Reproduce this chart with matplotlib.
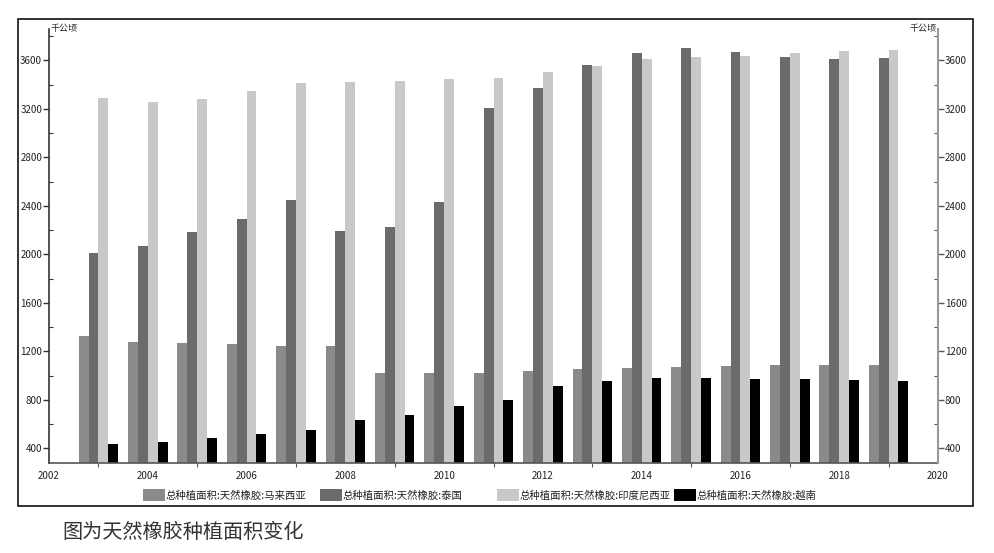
import matplotlib
matplotlib.use("Agg")
import matplotlib.pyplot as plt
from matplotlib.patches import Rectangle
from matplotlib.ticker import MultipleLocator, FixedLocator
import numpy as np

plt.rcParams['font.family'] = ['Noto Sans CJK SC', 'DejaVu Sans']

years = list(range(2003, 2020))
malaysia = [1327, 1276, 1268, 1260, 1243, 1243, 1024, 1021, 1024, 1041, 1054, 1066, 1070, 1078, 1084, 1084, 1084]
thailand = [2014, 2066, 2184, 2294, 2451, 2190, 2225, 2432, 3208, 3372, 3562, 3660, 3701, 3668, 3627, 3610, 3621]
indonesia = [3289, 3260, 3281, 3349, 3412, 3420, 3430, 3445, 3455, 3504, 3557, 3607, 3624, 3635, 3660, 3676, 3685]
vietnam = [439, 455, 485, 521, 554, 633, 678, 749, 802, 917, 958, 978, 983, 975, 970, 962, 958]

series_names = ['总种植面积:天然橡胶:马来西亚', '总种植面积:天然橡胶:泰国',
                '总种植面积:天然橡胶:印度尼西亚', '总种植面积:天然橡胶:越南']
colors = ['#8a8a8a', '#6b6b6b', '#c8c8c8', '#000000']
unit = '千公顷'
caption = '图为天然橡胶种植面积变化'

fig = plt.figure(figsize=(9.94, 5.53), dpi=100)
ax = fig.add_axes([49/994, 1-463/553, (938-49)/994, (463-29)/553])

ymin, ymax = 280, 3858
x = np.array(years, dtype=float)
w = 0.2
offsets = [-1.5, -0.5, 0.5, 1.5]
handles = []
for vals, c, off, name in zip([malaysia, thailand, indonesia, vietnam], colors, offsets, series_names):
    h = ax.bar(x + off*w, vals, width=w, color=c, bottom=0, label=name, linewidth=0)
    handles.append(h)

ax.set_xlim(2002, 2020)
ax.set_ylim(ymin, ymax)
ax.xaxis.set_major_locator(FixedLocator(list(range(2002, 2021, 2))))
ax.xaxis.set_minor_locator(FixedLocator(list(range(2003, 2020, 2))))
ax.yaxis.set_major_locator(FixedLocator(list(range(400, 3601, 400))))
ax.yaxis.set_minor_locator(MultipleLocator(200))

for s in ['top', 'right']:
    ax.spines[s].set_visible(False)
ax.spines['left'].set_color('#333333')
ax.spines['bottom'].set_color('#555555')
ax.spines['left'].set_linewidth(1.2)
ax.spines['bottom'].set_linewidth(1.2)

ax.tick_params(axis='y', which='major', direction='out', length=4, width=1, labelsize=7, colors='#333333', pad=1)
ax.tick_params(axis='y', which='minor', direction='in', length=3, width=0.8, colors='#333333')
ax.tick_params(axis='x', which='major', direction='out', length=0, labelsize=7, colors='#333333', pad=6)
ax.tick_params(axis='x', which='minor', direction='out', length=3, width=0.8, colors='#555555')
for lab in ax.get_yticklabels() + ax.get_xticklabels():
    lab.set_color('#222222')

ax2 = ax.twinx()
ax2.set_ylim(ymin, ymax)
ax2.yaxis.set_major_locator(FixedLocator(list(range(400, 3601, 400))))
ax2.yaxis.set_minor_locator(MultipleLocator(200))
for s in ['top', 'left', 'bottom']:
    ax2.spines[s].set_visible(False)
ax2.spines['right'].set_color('#999999')
ax2.spines['right'].set_linewidth(1.5)
ax2.tick_params(axis='y', which='major', direction='out', length=4, width=1, labelsize=7, colors='#555555', pad=1)
ax2.tick_params(axis='y', which='minor', direction='in', length=3, width=0.8, colors='#555555')
for lab in ax2.get_yticklabels():
    lab.set_color('#222222')

ax.text(0.002, 1.0, unit, transform=ax.transAxes, fontsize=6.5, ha='left', va='center', color='#222222')
ax2.text(0.998, 1.0, unit, transform=ax2.transAxes, fontsize=6.5, ha='right', va='center', color='#222222')

legend_x = [143, 320, 497, 674]
for h, name, lx in zip(handles, series_names, legend_x):
    leg = fig.legend(handles=[h], labels=[name], loc='center left',
                     bbox_to_anchor=(lx/994, 1-495/553), frameon=False, fontsize=7.5,
                     handlelength=2.1, handleheight=1.35, handletextpad=0.1,
                     borderaxespad=0, borderpad=0)
    for t in leg.get_texts():
        t.set_color('#222222')

fig.patches.append(Rectangle((18/994, 1-506/553), (973-18)/994, (506-19)/553,
                             transform=fig.transFigure, fill=False, edgecolor='#111111', linewidth=1.2))

fig.text(62/994, 1-532/553, caption, fontsize=14.5, ha='left', va='center', color='#333333', fontweight='light')

fig.savefig('out.png', dpi=100)
